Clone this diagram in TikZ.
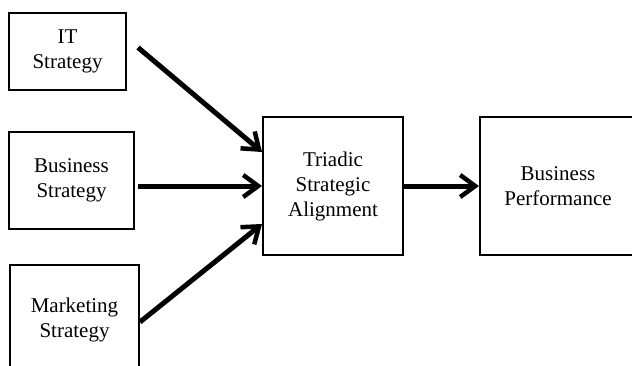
\documentclass[tikz,border=0pt]{standalone}
\usepackage{fontspec}
\setmainfont{Liberation Serif}
\usetikzlibrary{arrows.meta,calc}
\begin{document}
\begin{tikzpicture}[x=1pt,y=-1pt,
  box/.style={draw,line width=2pt,inner sep=0pt,align=center,
    font=\fontsize{21}{25}\selectfont},
  arr/.style={line width=5pt,-{Straight Barb[length=15pt,width=22pt,line width=4.5pt]}}]
\useasboundingbox (0,0) rectangle (632,365);
\clip (0,0) rectangle (632,365);
\fill[white] (0,0) rectangle (632,365);
\node[box,minimum width=117pt,minimum height=77pt] (it) at (67.5,51.5) {IT\\Strategy};
\node[box,minimum width=125pt,minimum height=97pt] (bus) at (71.5,180.5) {Business\\Strategy};
\node[box,minimum width=129pt,minimum height=110pt] (mkt) at (74.5,320) {Marketing\\Strategy};
\node[box,minimum width=140pt,minimum height=138pt] (tri) at (333,186) {Triadic\\Strategic\\Alignment};
\node[box,minimum width=156pt,minimum height=138pt] (perf) at (558,186) {Business\\Performance};
\draw[arr] ([xshift=11pt,yshift=4pt]it.east) -- ([yshift=34pt]tri.west);
\draw[arr] ([xshift=3pt]bus.east |- tri.west) -- (tri.west);
\draw[arr] ([yshift=-2pt]mkt.east) -- ([yshift=-38pt]tri.west);
\draw[arr] (tri.east) -- (perf.west);
\end{tikzpicture}
\end{document}
